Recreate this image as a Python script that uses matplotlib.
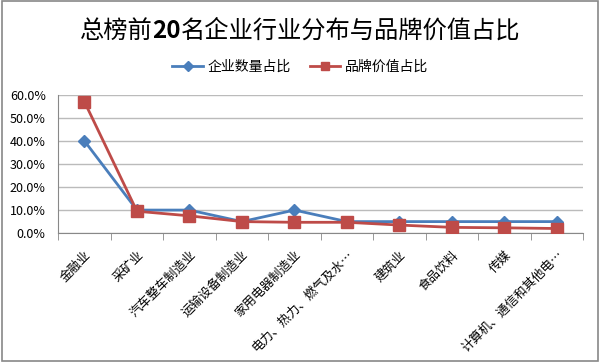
import numpy as np
import matplotlib.pyplot as plt
from matplotlib.ticker import PercentFormatter, FixedLocator
from matplotlib.patches import Rectangle

plt.rcParams['font.family'] = ['Noto Sans CJK SC', 'DejaVu Sans']

categories = ['金融业', '采矿业', '汽车整车制造业', '运输设备制造业', '家用电器制造业',
              '电力、热力、燃气及水…', '建筑业', '食品饮料', '传媒', '计算机、通信和其他电…']
count_share = [40.0, 10.0, 10.0, 5.0, 10.0, 5.0, 5.0, 5.0, 5.0, 5.0]
value_share = [57.0, 9.5, 7.5, 5.0, 4.7, 4.7, 3.5, 2.5, 2.3, 2.0]
series_names = ['企业数量占比', '品牌价值占比']
title_parts = ['总榜前', '20', '名企业行业分布与品牌价值占比']

fig = plt.figure(figsize=(6, 3.62), dpi=100)
fig.patches.append(Rectangle((0.003, 0.004), 0.994, 0.992, transform=fig.transFigure,
                             fill=False, edgecolor='#888888', linewidth=1.2))
ax = fig.add_axes([0.097, 0.356, 0.875, 0.382])

x = np.arange(len(categories))
ax.plot(x, count_share, color='#4A7EBB', marker='D', markersize=6, linewidth=2,
        label=series_names[0], zorder=3)
ax.plot(x, value_share, color='#BE4B48', marker='s', markersize=8, linewidth=2,
        label=series_names[1], zorder=4)

ax.set_xlim(-0.5, len(categories) - 0.5)
ax.set_ylim(0, 60)
ax.set_yticks(np.arange(0, 61, 10))
ax.yaxis.set_major_formatter(PercentFormatter(decimals=1))
ax.grid(axis='y', color='#BBBBBB', linewidth=1)
ax.set_axisbelow(True)

ax.set_xticks(x)
ax.set_xticklabels(categories, rotation=45, ha='right', rotation_mode='anchor', fontsize=9)
ax.xaxis.set_minor_locator(FixedLocator(np.arange(-0.5, len(categories), 1)))
ax.tick_params(axis='x', which='major', length=0, pad=11)
ax.tick_params(axis='x', which='minor', length=5, color='#888888')
ax.tick_params(axis='y', length=0, labelsize=9, pad=9)

for side in ['top', 'right']:
    ax.spines[side].set_visible(False)
ax.spines['left'].set_color('#888888')
ax.spines['bottom'].set_color('#888888')

# title in three pieces so that "20" can be bold
renderer = fig.canvas.get_renderer()
weights = ['normal', 'bold', 'normal']
texts = [fig.text(0, 0.915, s, fontsize=17.5, fontweight=w, va='center', ha='left')
         for s, w in zip(title_parts, weights)]
widths = [t.get_window_extent(renderer).width for t in texts]
fig_w = fig.get_figwidth() * fig.dpi
xpos = (fig_w - sum(widths)) / 2
for t, w in zip(texts, widths):
    t.set_x(xpos / fig_w)
    xpos += w

fig.legend(loc='center', bbox_to_anchor=(0.5, 0.815), ncol=2, frameon=False,
           fontsize=10, handlelength=2.2, handletextpad=0.3, columnspacing=1.4,
           markerscale=0.8)

fig.savefig('out.png', dpi=100)
